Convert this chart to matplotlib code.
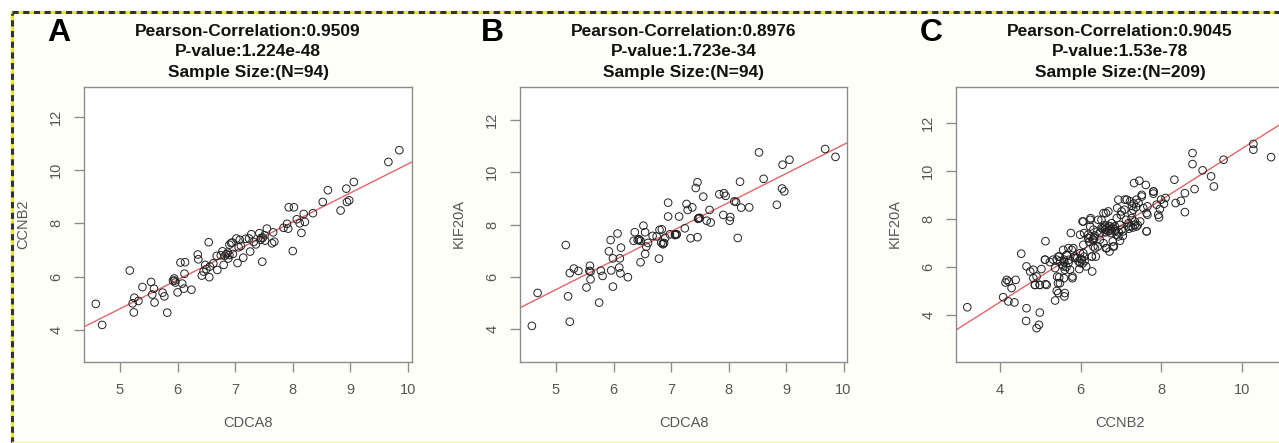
import matplotlib.pyplot as plt
import numpy as np

W, H = 1279, 443
plt.rcParams['font.family'] = ['Liberation Sans', 'DejaVu Sans']

# Panel A: CDCA8 vs CCNB2 (N=94)
a_cdca8 = [4.58, 4.69, 5.17, 5.22, 5.24, 5.25, 5.32, 5.39, 5.54, 5.56,
           5.59, 5.60, 5.74, 5.77, 5.82, 5.92, 5.94, 5.96, 6.00, 6.05,
           6.08, 6.11, 6.12, 6.13, 6.24, 6.35, 6.36, 6.42, 6.45, 6.48,
           6.50, 6.54, 6.55, 6.56, 6.68, 6.69, 6.80, 6.82, 6.85, 6.88,
           6.90, 6.93, 6.95, 6.96, 7.02, 7.04, 7.06, 7.08, 7.14, 7.24,
           7.26, 7.28, 7.36, 7.42, 7.44, 7.47, 7.48, 7.51, 7.55, 7.64,
           7.66, 7.68, 7.84, 7.90, 7.92, 7.93, 8.00, 8.02, 8.07, 8.12,
           8.15, 8.19, 8.21, 8.35, 8.52, 8.61, 8.83, 8.93, 8.94, 8.98,
           9.06, 9.66, 9.85,
           6.75, 6.87, 7.10, 7.32, 7.45, 6.62, 5.95, 6.78, 7.18, 6.90, 7.52]
a_ccnb2 = [4.98, 4.19, 6.23, 5.00, 4.66, 5.21, 5.09, 5.61, 5.80, 5.33,
           5.55, 5.03, 5.40, 5.26, 4.65, 5.85, 5.93, 5.78, 5.41, 6.53,
           5.74, 5.55, 6.11, 6.54, 5.51, 6.83, 6.65, 6.04, 6.19, 6.44,
           6.28, 7.29, 5.98, 6.38, 6.78, 6.25, 6.44, 6.78, 6.84, 6.68,
           6.81, 7.26, 7.28, 6.85, 7.43, 6.51, 7.10, 7.38, 6.71, 7.43,
           6.94, 7.59, 7.21, 7.63, 7.38, 6.56, 7.46, 7.55, 7.80, 7.25,
           7.66, 7.31, 7.83, 7.98, 7.80, 8.60, 6.96, 8.60, 8.15, 8.00,
           7.64, 8.35, 8.05, 8.38, 8.80, 9.24, 8.48, 9.30, 8.80, 8.86,
           9.55, 10.30, 10.74,
           6.80, 6.90, 7.15, 7.30, 7.45, 6.50, 5.85, 6.95, 7.42, 7.20, 7.35]

# Panel B: CDCA8 vs KIF20A (N=94)
b_cdca8 = [4.58, 4.68, 5.17, 5.21, 5.24, 5.24, 5.31, 5.39, 5.53, 5.58,
           5.59, 5.60, 5.75, 5.78, 5.81, 5.92, 5.95, 5.96, 5.99, 5.99,
           6.07, 6.10, 6.11, 6.12, 6.13, 6.25, 6.35, 6.37, 6.42, 6.44,
           6.47, 6.52, 6.55, 6.55, 6.57, 6.68, 6.79, 6.80, 6.83, 6.84,
           6.86, 6.90, 6.95, 6.95, 6.98, 7.07, 7.10, 7.14, 7.24, 7.27,
           7.29, 7.34, 7.37, 7.43, 7.46, 7.46, 7.48, 7.56, 7.62, 7.67,
           7.69, 7.84, 7.92, 7.95, 7.91, 8.02, 8.03, 8.10, 8.13, 8.16,
           8.20, 8.22, 8.36, 8.53, 8.61, 8.84, 8.94, 8.93, 8.97, 9.06,
           9.68, 9.86,
           6.45, 6.47, 6.86, 6.88, 7.07, 7.09, 7.48, 7.50, 7.47, 6.60, 6.75, 5.60]
b_kif20a = [4.13, 5.39, 7.22, 5.26, 4.29, 6.15, 6.32, 6.23, 5.60, 6.23,
            6.43, 5.91, 5.02, 6.24, 6.04, 6.98, 7.41, 6.25, 5.63, 6.71,
            7.66, 6.36, 6.71, 6.14, 7.12, 5.99, 7.38, 7.71, 7.41, 7.44,
            6.56, 7.96, 7.71, 6.88, 7.16, 7.57, 6.70, 7.80, 7.31, 7.82,
            7.25, 7.50, 8.84, 8.31, 7.63, 7.63, 7.63, 8.31, 7.86, 8.79,
            8.56, 7.48, 8.66, 9.40, 9.62, 7.52, 8.24, 9.07, 8.15, 8.56,
            8.08, 9.16, 9.20, 9.10, 8.37, 8.15, 8.29, 8.89, 8.87, 7.49,
            9.64, 8.65, 8.66, 10.76, 9.75, 8.76, 10.29, 9.38, 9.27, 10.48,
            10.89, 10.59,
            7.42, 7.38, 7.28, 7.30, 7.60, 7.62, 8.25, 8.26, 8.22, 7.30, 7.55, 6.20]

# Panel C: CCNB2 vs KIF20A (N=209)
c_ccnb2 = [3.19, 4.08, 4.21, 4.17, 4.22, 4.14, 4.29, 4.39, 4.36, 4.53,
           4.66, 4.66, 4.65, 4.75, 4.83, 4.87, 4.91, 4.97, 4.99, 4.99,
           5.03, 5.13, 5.13, 5.12, 5.24, 5.37, 5.41, 5.42, 5.44, 5.47,
           5.41, 5.57, 5.59, 5.61, 5.60, 5.66, 5.70, 5.74, 5.80, 5.82,
           5.72, 5.86, 5.92, 5.97, 5.99, 6.03, 6.07, 6.09, 6.07, 6.19,
           6.24, 6.28, 6.29, 6.32, 6.32, 6.34, 6.38, 6.43, 6.48, 6.52,
           6.57, 6.61, 6.63, 6.69, 6.72, 6.75, 6.81, 6.86, 6.94, 7.00,
           7.02, 7.09, 7.15, 7.19, 7.27, 7.33, 7.39, 7.46, 7.52, 7.62,
           7.64, 7.66, 7.81, 7.81, 7.66, 7.95, 7.97, 8.00, 8.07, 8.11,
           8.33, 8.36, 8.49, 8.59, 8.59, 8.78, 8.78, 8.83, 9.03, 9.24,
           9.31, 9.55, 10.29, 10.29, 10.73,
           4.83, 4.91, 4.87, 4.99, 5.12, 5.16, 5.32, 5.37, 5.45, 5.47,
           5.49, 5.45, 5.57, 5.59, 5.61, 5.66, 5.70, 5.76, 5.78, 5.80,
           5.86, 5.95, 5.99, 5.99, 6.05, 6.07, 6.09, 6.14, 6.19, 6.24,
           6.25, 6.28, 6.32, 6.36, 6.42, 6.44, 6.48, 6.52, 6.57, 6.61,
           6.63, 6.65, 6.69, 6.73, 6.77, 6.80, 6.83, 6.86, 6.90, 6.91,
           6.94, 6.98, 7.02, 7.06, 7.10, 7.13, 7.19, 7.23, 7.27, 7.31,
           7.35, 7.39, 7.44, 7.48, 7.52, 7.56, 7.64, 7.64, 7.81, 7.89,
           7.93,
           6.20, 6.25, 6.30, 6.22, 6.35, 6.55, 6.60, 6.65, 6.70, 6.75,
           6.80, 6.85, 6.62, 6.72, 7.20, 7.25, 7.30, 7.35, 7.28, 7.32,
           7.38, 7.42, 5.55, 5.60, 5.65, 5.50, 6.00, 6.05, 6.10, 6.90,
           6.95, 7.05, 6.98]
c_kif20a = [4.33, 4.75, 4.57, 5.47, 5.40, 5.36, 5.13, 5.47, 4.53, 6.56,
            6.03, 4.29, 3.76, 5.82, 5.54, 5.26, 3.46, 3.60, 4.11, 5.26,
            5.92, 5.29, 7.08, 6.31, 6.21, 4.61, 5.01, 5.61, 5.33, 6.44,
            6.31, 6.03, 5.54, 4.92, 4.78, 6.51, 6.79, 5.89, 5.61, 6.79,
            6.31, 6.44, 6.38, 5.92, 6.17, 6.31, 6.58, 7.42, 7.90, 7.35,
            7.97, 6.44, 5.82, 6.86, 7.56, 7.22, 6.44, 6.86, 7.42, 7.97,
            8.25, 7.56, 6.79, 8.32, 6.65, 7.42, 6.86, 7.56, 8.81, 8.18,
            7.56, 8.39, 8.81, 7.83, 8.25, 9.50, 8.81, 9.60, 8.94, 9.42,
            7.49, 8.53, 9.15, 9.06, 8.18, 8.07, 8.42, 8.81, 8.64, 8.88,
            9.64, 8.67, 8.76, 9.08, 8.29, 10.75, 10.29, 9.25, 10.03, 9.78,
            9.36, 10.47, 11.13, 10.89, 10.58,
            5.89, 5.61, 5.26, 5.26, 6.31, 5.26, 6.31, 5.96, 6.44, 5.58,
            5.33, 4.92, 6.72, 6.31, 5.89, 6.51, 6.17, 7.42, 6.72, 5.54,
            6.38, 6.24, 6.58, 7.35, 7.90, 6.93, 6.44, 6.03, 7.21, 7.69,
            8.04, 6.44, 7.14, 6.79, 7.49, 7.97, 7.14, 7.63, 7.00, 7.76,
            8.25, 6.79, 7.49, 7.69, 7.83, 7.07, 6.86, 7.49, 8.04, 8.46,
            7.28, 7.76, 8.32, 7.49, 8.81, 7.97, 7.69, 8.74, 8.04, 8.39,
            7.76, 7.69, 8.67, 7.90, 9.01, 8.46, 7.49, 8.25, 9.15, 8.60,
            8.18,
            7.20, 7.28, 7.15, 7.05, 7.32, 7.60, 7.68, 7.62, 7.72, 7.58,
            7.65, 7.70, 7.45, 7.52, 7.60, 7.70, 7.65, 7.90, 8.55, 8.65,
            8.50, 7.75, 6.10, 6.20, 6.00, 6.25, 6.35, 6.15, 6.25, 7.35,
            7.45, 7.30, 7.10]

panels = [
    dict(letter='A', x=a_cdca8, y=a_ccnb2, xlabel='CDCA8', ylabel='CCNB2',
         title=['Pearson-Correlation:0.9509', 'P-value:1.224e-48', 'Sample Size:(N=94)'],
         box=(84, 412), xlim=(4.375, 10.07), ylim=(2.8, 13.11), xticks=[5, 6, 7, 8, 9, 10],
         letter_x=59),
    dict(letter='B', x=b_cdca8, y=b_kif20a, xlabel='CDCA8', ylabel='KIF20A',
         title=['Pearson-Correlation:0.8976', 'P-value:1.723e-34', 'Sample Size:(N=94)'],
         box=(520, 847), xlim=(4.374, 10.06), ylim=(2.75, 13.26), xticks=[5, 6, 7, 8, 9, 10],
         letter_x=492),
    dict(letter='C', x=c_ccnb2, y=c_kif20a, xlabel='CCNB2', ylabel='KIF20A',
         title=['Pearson-Correlation:0.9045', 'P-value:1.53e-78', 'Sample Size:(N=209)'],
         box=(956, 1284), xlim=(2.91, 11.05), ylim=(2.05, 13.5), xticks=[4, 6, 8, 10],
         letter_x=931),
]

BOX_TOP, BOX_BOTTOM = 87, 362
GREY = '#8c8c8c'
LABEL = '#555555'

fig = plt.figure(figsize=(W / 100, H / 100), dpi=100)
fig.patch.set_facecolor('white')

# light frame around the figure area (dashed border)
fig.patches.append(plt.Rectangle((12 / W, 0), 1, 1 - 12 / H, transform=fig.transFigure,
                                 facecolor='#fffffa', edgecolor='none', zorder=-5))
for xs, ys in [([12 / W, 12 / W], [0, 1 - 12 / H]), ([12 / W, 1], [1 - 12 / H, 1 - 12 / H])]:
    fig.add_artist(plt.Line2D(xs, ys, transform=fig.transFigure, color='#e8e830', lw=2.2))
    fig.add_artist(plt.Line2D(xs, ys, transform=fig.transFigure, color='#333333', lw=2.2,
                              linestyle=(0, (2, 1.5))))
fig.add_artist(plt.Line2D([12 / W, 1], [1.5 / H, 1.5 / H], transform=fig.transFigure,
                          color='#f4f4a0', lw=1))

for p in panels:
    left, right = p['box']
    ax = fig.add_axes([left / W, (H - BOX_BOTTOM) / H, (right - left) / W,
                       (BOX_BOTTOM - BOX_TOP) / H])
    ax.set_facecolor('white')
    ax.scatter(p['x'], p['y'], s=30, facecolors='none', edgecolors='#222222',
               linewidths=0.7, zorder=3)
    slope, intercept = np.polyfit(p['x'], p['y'], 1)
    ax.axline((0, intercept), slope=slope, color='#e06666', lw=1.0, zorder=2)

    ax.set_xlim(*p['xlim'])
    ax.set_ylim(*p['ylim'])
    ax.set_xticks(p['xticks'])
    ax.set_yticks([4, 6, 8, 10, 12])
    for s in ax.spines.values():
        s.set_color(GREY)
        s.set_linewidth(1.0)
    ax.tick_params(length=7, width=1.0, color=GREY, labelcolor=LABEL, labelsize=10.5, pad=8)
    for lab in ax.get_yticklabels():
        lab.set_rotation(90)
        lab.set_va('center')

    cx = (left + right) / 2
    fig.text(cx / W, 1 - 423 / H, p['xlabel'], ha='center', va='center',
             fontsize=10.5, color=LABEL)
    fig.text((left - 61) / W, 1 - 224 / H, p['ylabel'], ha='center', va='center',
             rotation=90, fontsize=10.5, color=LABEL)
    for i, line in enumerate(p['title']):
        fig.text(cx / W, 1 - (31 + 20.5 * i) / H, line, ha='center', va='center',
                 fontsize=12.5, fontweight='bold', color='#111111')
    fig.text(p['letter_x'] / W, 1 - 33 / H, p['letter'], ha='center', va='center',
             fontsize=23, fontweight='bold', color='black')

fig.savefig('out.png', dpi=100)
